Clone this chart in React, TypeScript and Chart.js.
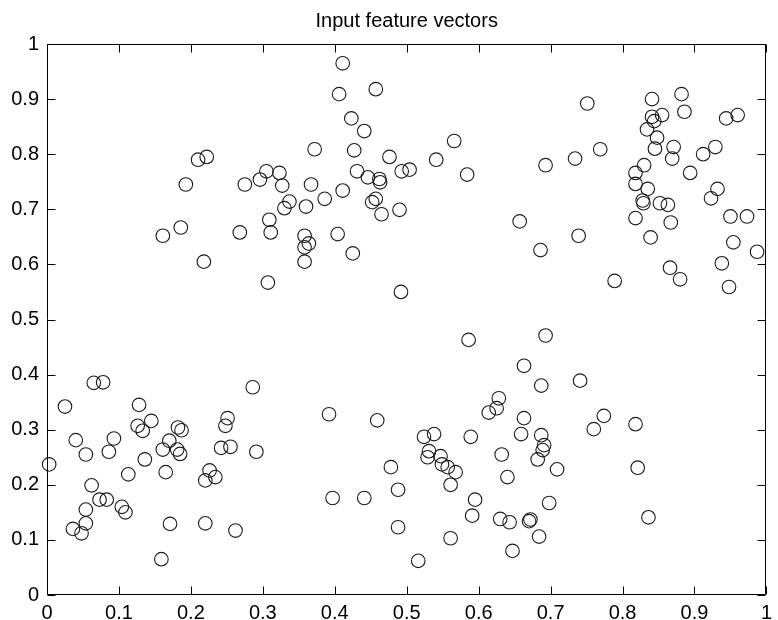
import React, { useEffect, useRef } from "react";
import { Chart, registerables } from "chart.js";

Chart.register(...registerables);

const chartTitle = "Input feature vectors";
const tickLabels = ["0", "0.1", "0.2", "0.3", "0.4", "0.5", "0.6", "0.7", "0.8", "0.9", "1"];

// lower-left cluster
const lowerLeftX = [0.003, 0.025, 0.040, 0.054, 0.065, 0.078, 0.093, 0.086, 0.062, 0.073, 0.083, 0.054, 0.054, 0.036, 0.048, 0.104, 0.109, 0.113, 0.128, 0.126, 0.133, 0.145, 0.136, 0.161, 0.170, 0.181, 0.185, 0.182, 0.187, 0.165, 0.171, 0.159, 0.220, 0.226, 0.234, 0.220, 0.242, 0.255, 0.248, 0.251, 0.262, 0.286, 0.291];
const lowerLeftY = [0.237, 0.342, 0.281, 0.255, 0.385, 0.386, 0.284, 0.260, 0.199, 0.173, 0.173, 0.155, 0.130, 0.120, 0.112, 0.160, 0.150, 0.219, 0.345, 0.307, 0.298, 0.316, 0.246, 0.264, 0.280, 0.264, 0.256, 0.304, 0.299, 0.223, 0.129, 0.065, 0.208, 0.226, 0.214, 0.130, 0.267, 0.269, 0.307, 0.321, 0.117, 0.377, 0.260];

// lower-right cluster
const lowerRightX = [0.586, 0.663, 0.392, 0.459, 0.628, 0.625, 0.614, 0.663, 0.659, 0.589, 0.524, 0.538, 0.531, 0.529, 0.547, 0.549, 0.557, 0.568, 0.561, 0.632, 0.640, 0.478, 0.488, 0.397, 0.441, 0.595, 0.591, 0.488, 0.561, 0.516, 0.630, 0.643, 0.670, 0.672, 0.647, 0.693, 0.687, 0.741, 0.687, 0.691, 0.689, 0.682, 0.709, 0.774, 0.760, 0.818, 0.821, 0.698, 0.684, 0.836];
const lowerRightY = [0.463, 0.416, 0.328, 0.317, 0.357, 0.339, 0.331, 0.321, 0.292, 0.287, 0.287, 0.292, 0.261, 0.250, 0.252, 0.237, 0.232, 0.223, 0.200, 0.255, 0.214, 0.232, 0.191, 0.176, 0.176, 0.173, 0.144, 0.123, 0.103, 0.062, 0.138, 0.132, 0.134, 0.137, 0.080, 0.471, 0.380, 0.389, 0.290, 0.272, 0.263, 0.246, 0.228, 0.325, 0.301, 0.310, 0.231, 0.167, 0.106, 0.141];

// upper-left cluster
const upperLeftX = [0.411, 0.406, 0.457, 0.423, 0.441, 0.372, 0.427, 0.476, 0.210, 0.222, 0.193, 0.275, 0.296, 0.305, 0.323, 0.327, 0.367, 0.337, 0.330, 0.360, 0.386, 0.411, 0.431, 0.446, 0.462, 0.463, 0.457, 0.452, 0.465, 0.186, 0.161, 0.268, 0.309, 0.311, 0.358, 0.364, 0.358, 0.358, 0.404, 0.425, 0.218, 0.307, 0.490, 0.492, 0.493, 0.504, 0.541, 0.566, 0.584];
const upperLeftY = [0.965, 0.909, 0.918, 0.865, 0.842, 0.809, 0.807, 0.795, 0.790, 0.795, 0.745, 0.745, 0.754, 0.769, 0.766, 0.743, 0.745, 0.714, 0.702, 0.705, 0.719, 0.734, 0.769, 0.758, 0.755, 0.749, 0.719, 0.713, 0.691, 0.667, 0.652, 0.658, 0.681, 0.658, 0.652, 0.638, 0.631, 0.605, 0.655, 0.620, 0.605, 0.567, 0.699, 0.550, 0.769, 0.772, 0.790, 0.824, 0.763];

// upper-right cluster
const upperRightX = [0.751, 0.693, 0.734, 0.769, 0.657, 0.739, 0.686, 0.789, 0.841, 0.882, 0.886, 0.841, 0.855, 0.844, 0.834, 0.848, 0.845, 0.871, 0.869, 0.944, 0.960, 0.912, 0.929, 0.830, 0.818, 0.818, 0.835, 0.894, 0.828, 0.829, 0.852, 0.863, 0.932, 0.923, 0.818, 0.867, 0.950, 0.973, 0.839, 0.954, 0.987, 0.938, 0.866, 0.880, 0.948];
const upperRightY = [0.892, 0.780, 0.792, 0.809, 0.678, 0.652, 0.626, 0.570, 0.900, 0.909, 0.877, 0.868, 0.871, 0.860, 0.845, 0.830, 0.810, 0.813, 0.792, 0.865, 0.871, 0.800, 0.813, 0.780, 0.766, 0.746, 0.737, 0.766, 0.716, 0.711, 0.711, 0.708, 0.737, 0.720, 0.684, 0.676, 0.687, 0.687, 0.649, 0.640, 0.623, 0.602, 0.594, 0.573, 0.559];

const clustersX = [lowerLeftX, lowerRightX, upperLeftX, upperRightX];
const clustersY = [lowerLeftY, lowerRightY, upperLeftY, upperRightY];

const FONT = "'Liberation Sans', Arial, sans-serif";

const framePlugin = {
  id: "matlabFrame",
  afterDraw(chart: any) {
    const { ctx, chartArea } = chart;
    const xs = chart.scales.x;
    const ys = chart.scales.y;
    const L = Math.round(chartArea.left) + 0.5;
    const R = Math.round(chartArea.right) - 0.5;
    const T = Math.round(chartArea.top) + 0.5;
    const B = Math.round(chartArea.bottom) - 0.5;
    const tl = 8;
    ctx.save();
    ctx.strokeStyle = "#000";
    ctx.lineWidth = 1;
    ctx.beginPath();
    ctx.rect(L, T, R - L, B - T);
    xs.ticks.forEach((t: any) => {
      const p = Math.round(xs.getPixelForValue(t.value)) + 0.5;
      ctx.moveTo(p, B);
      ctx.lineTo(p, B - tl);
      ctx.moveTo(p, T);
      ctx.lineTo(p, T + tl);
    });
    ys.ticks.forEach((t: any) => {
      const p = Math.round(ys.getPixelForValue(t.value)) + 0.5;
      ctx.moveTo(L, p);
      ctx.lineTo(L + tl, p);
      ctx.moveTo(R, p);
      ctx.lineTo(R - tl, p);
    });
    ctx.stroke();
    ctx.fillStyle = "#000";
    ctx.font = `20px ${FONT}`;
    ctx.textAlign = "center";
    ctx.textBaseline = "alphabetic";
    ctx.fillText(chartTitle, (chartArea.left + chartArea.right) / 2, 27);
    ctx.restore();
  },
};

export default function App() {
  const ref = useRef<HTMLCanvasElement | null>(null);

  useEffect(() => {
    if (!ref.current) return;
    const points: { x: number; y: number }[] = [];
    clustersX.forEach((xsArr, ci) => {
      xsArr.forEach((xv, i) => points.push({ x: xv, y: clustersY[ci][i] }));
    });
    const chart = new Chart(ref.current, {
      type: "scatter",
      data: {
        datasets: [
          {
            label: chartTitle,
            data: points,
            pointStyle: "circle",
            pointRadius: 6.8,
            pointHoverRadius: 6.8,
            pointBorderWidth: 1.1,
            borderColor: "#1a1a1a",
            backgroundColor: "rgba(0,0,0,0)",
            clip: false as any,
          },
        ],
      },
      options: {
        responsive: false,
        animation: false,
        events: [],
        layout: { padding: { top: 44, right: 5, left: 0, bottom: 0 } },
        plugins: {
          legend: { display: false },
          title: { display: false },
          tooltip: { enabled: false },
        },
        scales: {
          x: {
            type: "linear",
            min: 0,
            max: 1,
            grid: { display: false, drawTicks: false },
            border: { display: false },
            ticks: {
              stepSize: 0.1,
              autoSkip: false,
              maxRotation: 0,
              padding: 6,
              color: "#000",
              font: { size: 20, family: FONT },
              callback: (_v: any, i: number) => tickLabels[i],
            },
            afterFit: (s: any) => {
              s.height = 25;
            },
          },
          y: {
            type: "linear",
            min: 0,
            max: 1,
            grid: { display: false, drawTicks: false },
            border: { display: false },
            ticks: {
              stepSize: 0.1,
              autoSkip: false,
              padding: 8,
              color: "#000",
              font: { size: 20, family: FONT },
              callback: (_v: any, i: number) => tickLabels[i],
            },
            afterFit: (s: any) => {
              s.width = 47;
            },
          },
        },
      },
      plugins: [framePlugin],
    });
    return () => chart.destroy();
  }, []);

  return (
    <div style={{ position: "fixed", left: 0, top: 0, width: 778, height: 620, background: "#fff" }}>
      <canvas ref={ref} width={778} height={620} style={{ display: "block" }} />
    </div>
  );
}
